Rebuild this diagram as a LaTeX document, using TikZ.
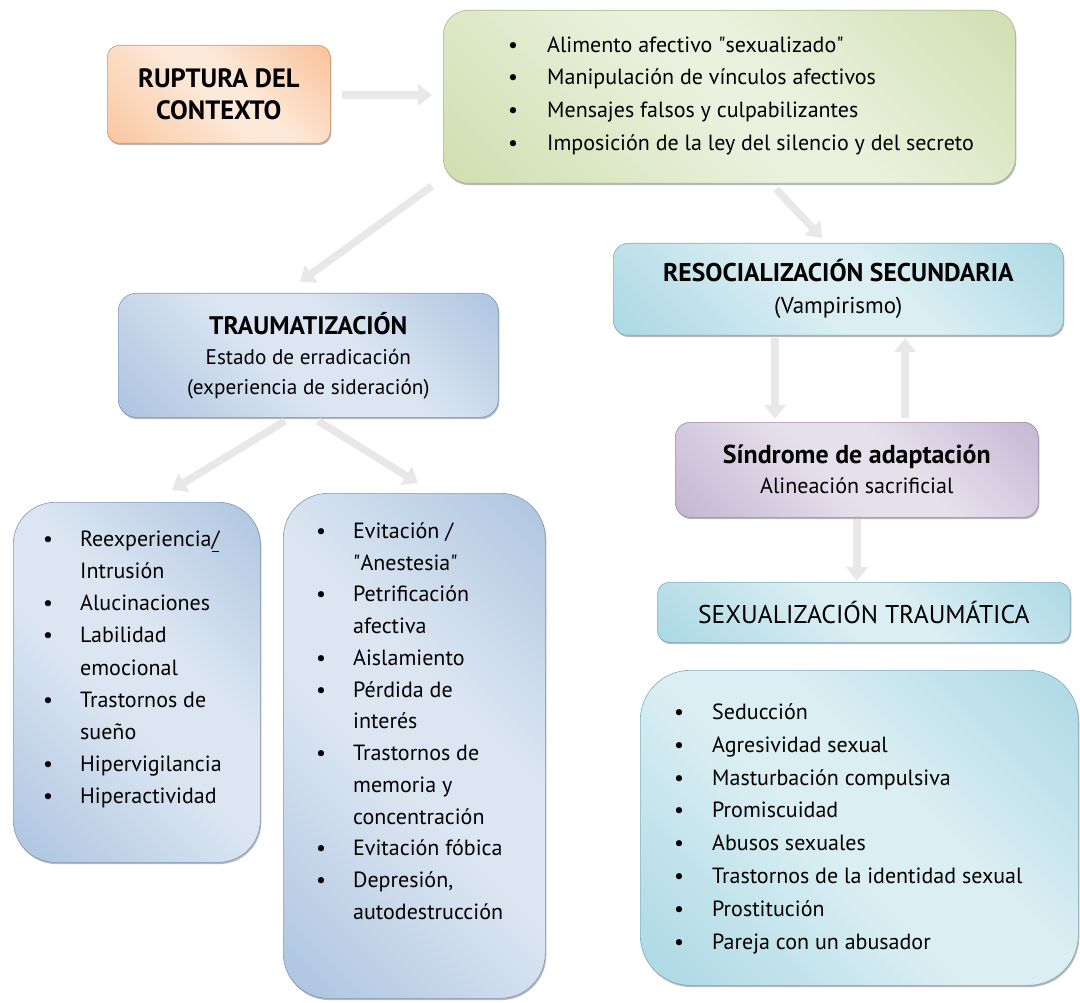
\documentclass[tikz,border=0pt]{standalone}
\usepackage{fontspec}
\setmainfont{PT Sans}
\newfontfamily\qfont{PT Sans}[Ligatures=TeXOff]
\usetikzlibrary{arrows.meta,shadows}
\definecolor{orD}{HTML}{F7AE78}
\definecolor{orL}{HTML}{FDE9D9}
\definecolor{grD}{HTML}{C3D69B}
\definecolor{grL}{HTML}{EBF1DE}
\definecolor{blD}{HTML}{95B3D7}
\definecolor{blL}{HTML}{DCE6F2}
\definecolor{cyD}{HTML}{93CDDD}
\definecolor{cyL}{HTML}{DAEEF3}
\definecolor{puD}{HTML}{B3A2C7}
\definecolor{puL}{HTML}{E6E0EC}
\definecolor{arrgray}{HTML}{E8E8E8}
\pgfdeclarehorizontalshading{shOr}{100bp}{color(0bp)=(orD!85!orL); color(48bp)=(orL); color(56bp)=(orL); color(100bp)=(orD)}
\pgfdeclarehorizontalshading{shGr}{100bp}{color(0bp)=(grD); color(48bp)=(grL); color(56bp)=(grL); color(100bp)=(grD)}
\pgfdeclarehorizontalshading{shBl}{100bp}{color(0bp)=(blD); color(45bp)=(blL); color(58bp)=(blL); color(100bp)=(blD)}
\pgfdeclarehorizontalshading{shCy}{100bp}{color(0bp)=(cyD); color(45bp)=(cyL); color(58bp)=(cyL); color(100bp)=(cyD)}
\pgfdeclarehorizontalshading{shPu}{100bp}{color(0bp)=(puD); color(45bp)=(puL); color(58bp)=(puL); color(100bp)=(puD)}
\newcommand\bul{\textbullet}
\newcommand\dq{{\qfont\char34\relax}}
\begin{document}
\begin{tikzpicture}[x=1pt,y=-1pt,
  boxbase/.style={anchor=north west, inner sep=0pt, line width=0.6pt, shading angle=45,
     drop shadow={shadow xshift=1pt, shadow yshift=-1.8pt, fill=black!55}},
  boxor/.style={boxbase, draw=orD!85!black, shading=shOr},
  boxgr/.style={boxbase, draw=grD!85!black, shading=shGr},
  boxbl/.style={boxbase, draw=blD!85!black, shading=shBl},
  boxcy/.style={boxbase, draw=cyD!85!black, shading=shCy},
  boxpu/.style={boxbase, draw=puD!85!black, shading=shPu},
  txt/.style={align=center},
  list/.style={anchor=north west, inner sep=0pt, font=\fontsize{22}{#1}\selectfont},
  arr/.style={draw=arrgray, line width=7.5pt, -{Triangle[width=21pt,length=14pt]}}]
\useasboundingbox[fill=white] (0,0) rectangle (1080,1003);

% boxes
\node[boxor, rounded corners=12pt, minimum width=223pt, minimum height=98pt, txt, font=\fontsize{26.5}{32}\selectfont\bfseries] (rup) at (107,45) {RUPTURA DEL\\CONTEXTO};
\node[boxgr, rounded corners=25pt, minimum width=572pt, minimum height=173pt] (green) at (443,10) {};
\node[boxbl, rounded corners=18pt, minimum width=380pt, minimum height=124pt, txt, font=\fontsize{21.2}{30}\selectfont] (traum) at (118,293) {{\fontsize{25.4}{30}\selectfont\bfseries TRAUMATIZACIÓN}\\Estado de erradicación\\(experiencia de sideración)};
\node[boxcy, rounded corners=15pt, minimum width=450pt, minimum height=92pt, txt, font=\fontsize{23}{32}\selectfont] (resoc) at (613,243) {{\fontsize{25.6}{32}\selectfont\bfseries RESOCIALIZACIÓN SECUNDARIA}\\(Vampirismo)};
\node[boxpu, rounded corners=15pt, minimum width=363pt, minimum height=95pt, txt, font=\fontsize{22}{30}\selectfont] (sind) at (675,422) {{\fontsize{25.9}{30}\selectfont\bfseries Síndrome de adaptación}\\Alineación sacrificial};
\node[boxcy, rounded corners=12pt, minimum width=413pt, minimum height=60pt, txt, font=\fontsize{25.6}{30}\selectfont] (sex) at (657,582) {SEXUALIZACIÓN TRAUMÁTICA};
\node[boxbl, rounded corners=42pt, minimum width=247pt, minimum height=360pt] (leftl) at (13,502) {};
\node[boxbl, rounded corners=45pt, minimum width=262pt, minimum height=505pt] (midl) at (283,493) {};
\node[boxcy, rounded corners=50pt, minimum width=438pt, minimum height=315pt] (rightl) at (640,670) {};

% list texts
\node[list=32.7] (greent) at (508,29) {\begin{tabular}{@{}p{39pt}@{}l@{}}
\bul & Alimento afectivo \dq sexualizado\dq\\
\bul & Manipulación de vínculos afectivos\\
\bul & Mensajes falsos y culpabilizantes\\
\bul & Imposición de la ley del silencio y del secreto
\end{tabular}};
\node[list=32.1] (leftt) at (43,524) {\begin{tabular}{@{}p{37pt}@{}l@{}}
\bul & Reexperiencia\underline{/}\\
 & Intrusión\\
\bul & Alucinaciones\\
\bul & Labilidad\\
 & emocional\\
\bul & Trastornos de\\
 & sueño\\
\bul & Hipervigilancia\\
\bul & Hiperactividad
\end{tabular}};
\node[list=31.75] (midt) at (316,516) {\begin{tabular}{@{}p{37pt}@{}l@{}}
\bul & Evitación /\\
 & \dq Anestesia\dq\\
\bul & Petrificación\\
 & afectiva\\
\bul & Aislamiento\\
\bul & Pérdida de\\
 & interés\\
\bul & Trastornos de\\
 & memoria y\\
 & concentración\\
\bul & Evitación fóbica\\
\bul & Depresión,\\
 & autodestrucción
\end{tabular}};
\node[list=32.9] (rightt) at (674,696) {\begin{tabular}{@{}p{38pt}@{}l@{}}
\bul & Seducción\\
\bul & Agresividad sexual\\
\bul & Masturbación compulsiva\\
\bul & Promiscuidad\\
\bul & Abusos sexuales\\
\bul & Trastornos de la identidad sexual\\
\bul & Prostitución\\
\bul & Pareja con un abusador
\end{tabular}};

% arrow ends
\coordinate (a1s) at (342,95);  \coordinate (a1e) at (432,95);
\coordinate (a2s) at (432,186); \coordinate (a2e) at (300,282);
\coordinate (a3s) at (776,189); \coordinate (a3e) at (822,238);
\coordinate (a4s) at (285,421); \coordinate (a4e) at (172,490);
\coordinate (a5s) at (318,421); \coordinate (a5e) at (418,483);
\coordinate (a6s) at (775,338); \coordinate (a6e) at (775,419);
\coordinate (a7s) at (905,418); \coordinate (a7e) at (905,338);
\coordinate (a8s) at (857,519); \coordinate (a8e) at (857,581);
\draw[arr] (a1s) -- (a1e);
\draw[arr] (a2s) -- (a2e);
\draw[arr] (a3s) -- (a3e);
\draw[arr] (a4s) -- (a4e);
\draw[arr] (a5s) -- (a5e);
\draw[arr] (a6s) -- (a6e);
\draw[arr] (a7s) -- (a7e);
\draw[arr] (a8s) -- (a8e);
\end{tikzpicture}
\end{document}
